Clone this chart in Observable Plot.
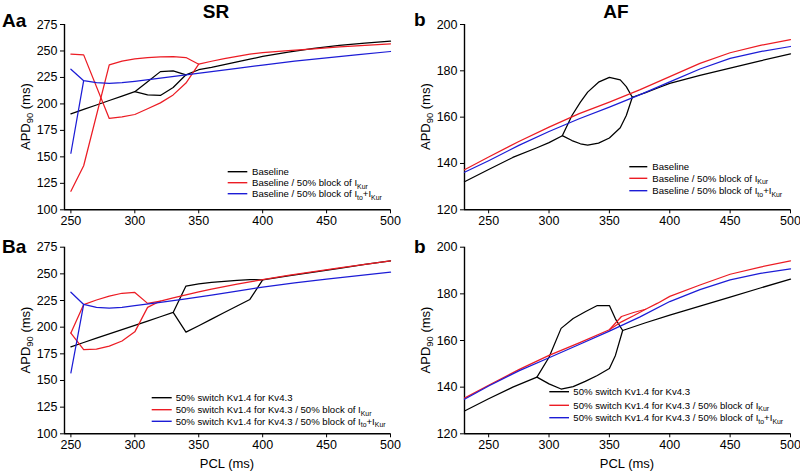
<!DOCTYPE html>
<html><head><meta charset="utf-8">
<script src="https://cdn.jsdelivr.net/npm/d3@7"></script>
<script src="https://cdn.jsdelivr.net/npm/@observablehq/plot@0.6"></script>
<style>
body{margin:0;background:#fff;}
#chart{position:relative;width:800px;height:472px;font-family:"Liberation Sans",Arial,sans-serif;}
#chart svg.panel{position:absolute;overflow:visible;}
#overlay{position:absolute;left:0;top:0;pointer-events:none;}
</style></head><body><div id="chart"></div>
<script>
// ---------- Panel Aa (SR, baseline) ----------
const aaBlackPcl = [250,260,270,280,290,300,310,320,330,340,350,360,370,380,390,400,420,440,460,480,500];
const aaBlackApd = [190.6,194.8,199,203.2,207.4,211.6,221,230.5,231.2,227.5,232.3,234.5,237,239.6,242.2,244.8,249,252.5,255.3,257.5,259.2];
const aaBlackAlt = [null,null,null,null,null,211.6,208.5,208,215.5,227.5,null,null,null,null,null,null,null,null,null,null,null];
const aaRedPcl = [250,260,280,290,300,310,320,330,340,350,360,370,380,390,400,420,440,460,480,500];
const aaRedApd = [117.5,141.6,236.9,240.5,242.5,243.8,244.5,244.7,243.8,237.5,240.3,242.8,245,247,248.5,250.3,252,253.8,255.3,256.8];
const aaRedAlt = [247,246.3,186.3,187.8,190,195.4,201,208.5,219.7,237.5,null,null,null,null,null,null,null,null,null,null];
const aaBluePcl = [250,260,270,280,290,300,320,340,360,380,400,425,450,475,500];
const aaBlueApd = [232.8,221.9,220.2,219.4,220,221.3,224.4,227.5,230.6,233.6,236.7,240.3,243.5,246.5,249.5];
const aaBlueAlt = [153.4,221.9,null,null,null,null,null,null,null,null,null,null,null,null,null];

// ---------- Panel b (AF, baseline) ----------
const bBlackPcl = [230,250,270,290,300,311,319,326,332,341,350,359,364,369,380,390,400,425,450,475,500];
const bBlackApd = [132.1,137.4,142.6,146.8,149,152,160.7,166.5,170.8,175.1,177.2,176.1,173.2,168.6,170.6,172.6,174.6,178,181.2,184.3,187.3];
const bBlackAlt = [null,null,null,null,null,152,149.9,148.5,147.9,148.8,151,155.4,160.7,168.6,null,null,null,null,null,null,null];
const bRedPcl = [230,250,275,300,325,350,375,400,425,450,475,500];
const bRedApd = [137.3,142.8,149.5,155.7,161.5,166.5,171.8,177.5,183.2,187.8,191,193.5];
const bBluePcl = [230,250,275,300,325,350,375,400,425,450,475,500];
const bBlueApd = [136.2,141.2,147.8,153.8,159.3,164.3,169.6,175.2,180.8,185.4,188.3,190.5];

// ---------- Panel Ba (SR, 50% switch Kv1.4 for Kv4.3) ----------
const baBlackPcl = [250,260,270,280,290,300,310,320,330,340,350,360,370,380,390,400,420,440,460,480,500];
const baBlackApd = [181.6,185.6,189.7,193.7,197.7,201.6,205.7,209.8,213.8,238.6,240.5,242,243,244,244.6,244.4,248,251.6,255.2,258.8,262.2];
const baBlackAlt = [null,null,null,null,null,null,null,null,213.8,195.3,201.3,207.5,213.7,219.9,226,244.4,null,null,null,null,null];
const baRedPcl = [250,260,270,280,290,300,310,320,330,340,350,360,370,380,390,400,420,440,460,480,500];
const baRedApd = [194.5,221.2,225.5,229.2,231.8,232.6,222.3,224.5,227.5,230.3,233,235.6,238,240.3,242.5,244.6,248.5,252.2,255.7,259,262.2];
const baRedAlt = [194.5,179,179.4,182.2,187,195.6,218.6,224.5,null,null,null,null,null,null,null,null,null,null,null,null,null];
const baBluePcl = [250,260,270,280,290,300,320,340,360,380,400,425,450,475,500];
const baBlueApd = [232.8,221.3,218.6,217.8,218.5,220.2,223.3,226.5,230,233.8,237.6,241.5,245,248.4,251.6];
const baBlueAlt = [157.2,221.3,null,null,null,null,null,null,null,null,null,null,null,null,null];

// ---------- Panel b (AF, 50% switch Kv1.4 for Kv4.3) ----------
const b2BlackPcl = [230,250,270,290,300,310,320,330,340,350,355,361,380,400,425,450,475,500];
const b2BlackApd = [129.8,135,140,144.3,152.8,165.2,169.4,172.3,175,175,169.3,164.3,167.6,170.9,174.7,178.6,182.5,186.3];
const b2BlackAlt = [null,null,null,144.3,141.4,139.2,140.2,142.5,145,148,153.6,164.3,null,null,null,null,null,null];
const b2RedPcl = [230,250,275,300,325,350,360,370,380,390,400,425,450,475,500];
const b2RedApd = [135.3,140.8,147.5,153.6,159,164.6,170.3,172,173.4,176,178.9,183.8,188.4,191.5,194.1];
const b2RedAlt = [null,null,null,null,null,164.6,168,170.6,173.4,null,null,null,null,null,null];
const b2BluePcl = [230,250,275,300,325,350,375,400,425,450,475,500];
const b2BlueApd = [134.8,140.5,147,152.6,158.3,164,170,176.7,181.8,186,188.8,190.7];

// ---------- Ticks and labels ----------
const srYTicks = [100,125,150,175,200,225,250,275];
const afYTicks = [120,140,160,180,200];
const srXTicks = [250,300,350,400,450,500];
const afXTicks = [250,300,350,400,450,500];
const legendTop = ["Baseline", "Baseline / 50% block of I{Kur}", "Baseline / 50% block of I{to}+I{Kur}"];
const legendBottom = ["50% switch Kv1.4 for Kv4.3", "50% switch Kv1.4 for Kv4.3 / 50% block of I{Kur}", "50% switch Kv1.4 for Kv4.3 / 50% block of I{to}+I{Kur}"];
const colors = ["#000000", "#ec1c24", "#1c1cd6"];

function toRows(pcl, main, alt) {
  const rows = [];
  pcl.forEach((p, i) => { if (main[i] != null) rows.push({pcl: p, apd: main[i], b: "main"}); });
  if (alt) pcl.forEach((p, i) => { if (alt[i] != null) rows.push({pcl: p, apd: alt[i], b: "alt"}); });
  return rows;
}

const FONT = '"Liberation Sans", Arial, sans-serif';
const chart = document.getElementById("chart");

function addRich(sel, str, fs) {
  const parts = str.split(/(\{[^}]*\})/).filter(s => s.length);
  let shifted = false;
  parts.forEach(p => {
    if (p.startsWith("{")) {
      sel.append("tspan").attr("font-size", fs * 0.72).attr("dy", shifted ? 0 : fs * 0.25).text(p.slice(1, -1));
      shifted = true;
    } else {
      sel.append("tspan").attr("dy", shifted ? -fs * 0.25 : 0).text(p);
      shifted = false;
    }
  });
}

function panel(cfg) {
  const marks = [
    Plot.ruleX([cfg.xDomain[0]], {stroke: "#000", strokeWidth: 1.4}),
    Plot.ruleY([cfg.yDomain[0]], {stroke: "#000", strokeWidth: 1.4})
  ];
  cfg.curves.forEach((c, i) => {
    marks.push(Plot.line(toRows(c[0], c[1], c[2]), {x: "pcl", y: "apd", z: "b", stroke: colors[i], strokeWidth: 1.25, curve: "linear"}));
  });
  const svg = Plot.plot({
    width: 400, height: 236,
    marginLeft: 64, marginRight: 10, marginTop: cfg.mt, marginBottom: cfg.mb,
    style: {fontFamily: FONT, fontSize: "12.5px", color: "#000", background: "transparent", overflow: "visible"},
    x: {domain: cfg.xDomain, ticks: cfg.xTicks, tickSize: 4, tickPadding: 2, label: null},
    y: {domain: cfg.yDomain, ticks: cfg.yTicks, tickSize: 4, tickPadding: 3, label: null},
    marks
  });
  svg.classList.add("panel");
  svg.style.left = cfg.left + "px";
  svg.style.top = cfg.top + "px";
  chart.appendChild(svg);
  const s = d3.select(svg);
  // y label
  const yc = cfg.mt + (236 - cfg.mt - cfg.mb) / 2;
  const yl = s.append("text").attr("transform", `translate(30,${yc}) rotate(-90)`)
    .attr("text-anchor", "middle").attr("font-size", 13).attr("font-family", FONT).attr("fill", "#000");
  addRich(yl, "APD{90} (ms)", 13);
  if (cfg.xLabel) {
    s.append("text").attr("x", 64 + (400 - 74) / 2).attr("y", 232).attr("text-anchor", "middle")
      .attr("font-size", 13).attr("font-family", FONT).attr("fill", "#000").text("PCL (ms)");
  }
  // legend
  const lg = cfg.legend;
  cfg.legendLabels.forEach((lab, i) => {
    const y = lg.y[i];
    s.append("line").attr("x1", lg.x1).attr("x2", lg.x2).attr("y1", y).attr("y2", y)
      .attr("stroke", colors[i]).attr("stroke-width", 1.4);
    const t = s.append("text").attr("x", lg.tx).attr("y", y + 3.4).attr("font-size", 9.6)
      .attr("text-anchor", "start").attr("font-family", FONT).attr("fill", "#000");
    addRich(t, lab, 9.6);
  });
}

panel({left: 0, top: 0, mt: 24, mb: 26.7, xDomain: [245, 500], yDomain: [100, 275], xTicks: srXTicks, yTicks: srYTicks,
  curves: [[aaBlackPcl, aaBlackApd, aaBlackAlt], [aaRedPcl, aaRedApd, aaRedAlt], [aaBluePcl, aaBlueApd, aaBlueAlt]],
  legendLabels: legendTop, legend: {x1: 227.7, x2: 247.3, tx: 252, y: [171.7, 182.7, 193.7]}});
panel({left: 400, top: 0, mt: 24, mb: 26.7, xDomain: [230, 500], yDomain: [120, 200], xTicks: afXTicks, yTicks: afYTicks,
  curves: [[bBlackPcl, bBlackApd, bBlackAlt], [bRedPcl, bRedApd, null], [bBluePcl, bBlueApd, null]],
  legendLabels: legendTop, legend: {x1: 229.3, x2: 247.3, tx: 252.3, y: [166.7, 178.3, 190.7]}});
panel({left: 0, top: 236, mt: 10.7, mb: 38.7, xDomain: [245, 500], yDomain: [100, 275], xTicks: srXTicks, yTicks: srYTicks, xLabel: true,
  curves: [[baBlackPcl, baBlackApd, baBlackAlt], [baRedPcl, baRedApd, baRedAlt], [baBluePcl, baBlueApd, baBlueAlt]],
  legendLabels: legendBottom, legend: {x1: 151.7, x2: 171.7, tx: 175.7, y: [161.7, 173.7, 185.3]}});
panel({left: 400, top: 236, mt: 10.7, mb: 38.7, xDomain: [230, 500], yDomain: [120, 200], xTicks: afXTicks, yTicks: afYTicks, xLabel: true,
  curves: [[b2BlackPcl, b2BlackApd, b2BlackAlt], [b2RedPcl, b2RedApd, b2RedAlt], [b2BluePcl, b2BlueApd, null]],
  legendLabels: legendBottom, legend: {x1: 149.3, x2: 169, tx: 173.3, y: [155.7, 169.3, 181.7]}});

// titles and panel letters
const ov = d3.select(chart).append("svg").attr("id", "overlay").attr("width", 800).attr("height", 472);
const heads = [["SR", 216, 18, "middle"], ["AF", 616, 18, "middle"], ["Aa", 2, 27, "start"], ["b", 414, 26, "start"], ["Ba", 2, 253, "start"], ["b", 414, 253, "start"]];
heads.forEach(h => ov.append("text").attr("x", h[1]).attr("y", h[2]).attr("text-anchor", h[3])
  .attr("font-family", FONT).attr("font-weight", "bold").attr("font-size", 19).attr("fill", "#000").text(h[0]));
</script></body></html>
